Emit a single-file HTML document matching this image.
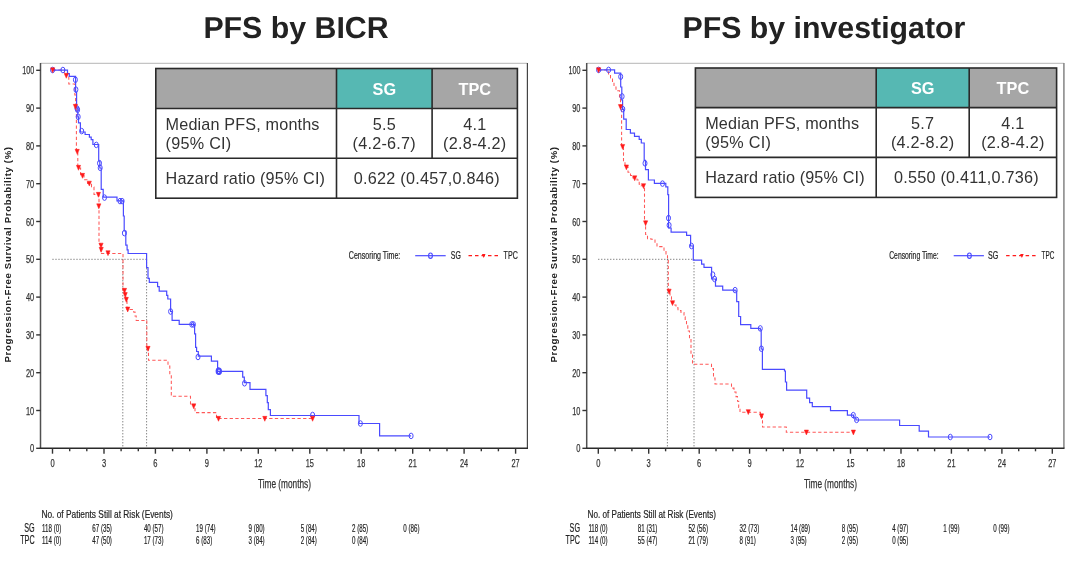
<!DOCTYPE html>
<html><head><meta charset="utf-8"><title>PFS</title><style>
*{margin:0;padding:0}
html,body{width:1080px;height:579px;background:#fff;overflow:hidden}
svg{display:block;will-change:transform}
text{font-family:"Liberation Sans",sans-serif}
.title{font-size:30.3px;text-rendering:geometricPrecision;font-weight:bold;fill:#222;text-anchor:middle}
.tk{font-size:11.6px;fill:#333;stroke:#333;stroke-width:0.25px}
.yl{font-size:9.6px;font-weight:bold;fill:#222}
.th{font-size:16.3px;font-weight:bold;fill:#fff;text-anchor:middle}
.td{font-size:16.2px;fill:#333;letter-spacing:0.25px}
.sm{font-size:10.4px;fill:#222;stroke:#222;stroke-width:0.2px}
.ar{font-size:11px;fill:#222;stroke:#222;stroke-width:0.2px}
.ar2{font-size:10.5px;fill:#222;transform-box:fill-box}
</style></head>
<body><svg width="1080" height="579" viewBox="0 0 1080 579">
<text x="296" y="37.9" class="title">PFS by BICR</text>
<text x="823.9" y="38.2" class="title">PFS by investigator</text>
<path d="M40.5,63.4H527.4" fill="none" stroke="#c4c4c4" stroke-width="1.1"/>
<path d="M527.4,62.9V448.3" fill="none" stroke="#454545" stroke-width="1.2"/>
<path d="M40.5,62.9V448.3" fill="none" stroke="#505050" stroke-width="1.5"/>
<path d="M39.8,448.3H528.0" fill="none" stroke="#2a2a2a" stroke-width="1.6"/>
<path d="M36.2,448.3H40.5" stroke="#333" stroke-width="1.4"/>
<text x="34.2" y="452.4" text-anchor="end" class="tk" textLength="4.2" lengthAdjust="spacingAndGlyphs">0</text>
<path d="M36.2,410.5H40.5" stroke="#333" stroke-width="1.4"/>
<text x="34.2" y="414.6" text-anchor="end" class="tk" textLength="8.2" lengthAdjust="spacingAndGlyphs">10</text>
<path d="M36.2,372.7H40.5" stroke="#333" stroke-width="1.4"/>
<text x="34.2" y="376.8" text-anchor="end" class="tk" textLength="8.2" lengthAdjust="spacingAndGlyphs">20</text>
<path d="M36.2,334.9H40.5" stroke="#333" stroke-width="1.4"/>
<text x="34.2" y="339.0" text-anchor="end" class="tk" textLength="8.2" lengthAdjust="spacingAndGlyphs">30</text>
<path d="M36.2,297.1H40.5" stroke="#333" stroke-width="1.4"/>
<text x="34.2" y="301.2" text-anchor="end" class="tk" textLength="8.2" lengthAdjust="spacingAndGlyphs">40</text>
<path d="M36.2,259.3H40.5" stroke="#333" stroke-width="1.4"/>
<text x="34.2" y="263.4" text-anchor="end" class="tk" textLength="8.2" lengthAdjust="spacingAndGlyphs">50</text>
<path d="M36.2,221.5H40.5" stroke="#333" stroke-width="1.4"/>
<text x="34.2" y="225.6" text-anchor="end" class="tk" textLength="8.2" lengthAdjust="spacingAndGlyphs">60</text>
<path d="M36.2,183.7H40.5" stroke="#333" stroke-width="1.4"/>
<text x="34.2" y="187.8" text-anchor="end" class="tk" textLength="8.2" lengthAdjust="spacingAndGlyphs">70</text>
<path d="M36.2,145.9H40.5" stroke="#333" stroke-width="1.4"/>
<text x="34.2" y="150.0" text-anchor="end" class="tk" textLength="8.2" lengthAdjust="spacingAndGlyphs">80</text>
<path d="M36.2,108.1H40.5" stroke="#333" stroke-width="1.4"/>
<text x="34.2" y="112.2" text-anchor="end" class="tk" textLength="8.2" lengthAdjust="spacingAndGlyphs">90</text>
<path d="M36.2,70.3H40.5" stroke="#333" stroke-width="1.4"/>
<text x="34.2" y="74.4" text-anchor="end" class="tk" textLength="12.0" lengthAdjust="spacingAndGlyphs">100</text>
<path d="M52.5,448.3V453.7" stroke="#333" stroke-width="1.4"/>
<text x="52.5" y="466.9" text-anchor="middle" class="tk" textLength="4.2" lengthAdjust="spacingAndGlyphs">0</text>
<path d="M69.7,448.3V451.3" stroke="#333" stroke-width="1.4"/>
<path d="M86.8,448.3V451.3" stroke="#333" stroke-width="1.4"/>
<path d="M104.0,448.3V453.7" stroke="#333" stroke-width="1.4"/>
<text x="104.0" y="466.9" text-anchor="middle" class="tk" textLength="4.2" lengthAdjust="spacingAndGlyphs">3</text>
<path d="M121.1,448.3V451.3" stroke="#333" stroke-width="1.4"/>
<path d="M138.3,448.3V451.3" stroke="#333" stroke-width="1.4"/>
<path d="M155.4,448.3V453.7" stroke="#333" stroke-width="1.4"/>
<text x="155.4" y="466.9" text-anchor="middle" class="tk" textLength="4.2" lengthAdjust="spacingAndGlyphs">6</text>
<path d="M172.6,448.3V451.3" stroke="#333" stroke-width="1.4"/>
<path d="M189.7,448.3V451.3" stroke="#333" stroke-width="1.4"/>
<path d="M206.9,448.3V453.7" stroke="#333" stroke-width="1.4"/>
<text x="206.9" y="466.9" text-anchor="middle" class="tk" textLength="4.2" lengthAdjust="spacingAndGlyphs">9</text>
<path d="M224.0,448.3V451.3" stroke="#333" stroke-width="1.4"/>
<path d="M241.2,448.3V451.3" stroke="#333" stroke-width="1.4"/>
<path d="M258.3,448.3V453.7" stroke="#333" stroke-width="1.4"/>
<text x="258.3" y="466.9" text-anchor="middle" class="tk" textLength="8.2" lengthAdjust="spacingAndGlyphs">12</text>
<path d="M275.5,448.3V451.3" stroke="#333" stroke-width="1.4"/>
<path d="M292.6,448.3V451.3" stroke="#333" stroke-width="1.4"/>
<path d="M309.8,448.3V453.7" stroke="#333" stroke-width="1.4"/>
<text x="309.8" y="466.9" text-anchor="middle" class="tk" textLength="8.2" lengthAdjust="spacingAndGlyphs">15</text>
<path d="M326.9,448.3V451.3" stroke="#333" stroke-width="1.4"/>
<path d="M344.1,448.3V451.3" stroke="#333" stroke-width="1.4"/>
<path d="M361.2,448.3V453.7" stroke="#333" stroke-width="1.4"/>
<text x="361.2" y="466.9" text-anchor="middle" class="tk" textLength="8.2" lengthAdjust="spacingAndGlyphs">18</text>
<path d="M378.4,448.3V451.3" stroke="#333" stroke-width="1.4"/>
<path d="M395.5,448.3V451.3" stroke="#333" stroke-width="1.4"/>
<path d="M412.7,448.3V453.7" stroke="#333" stroke-width="1.4"/>
<text x="412.7" y="466.9" text-anchor="middle" class="tk" textLength="8.2" lengthAdjust="spacingAndGlyphs">21</text>
<path d="M429.8,448.3V451.3" stroke="#333" stroke-width="1.4"/>
<path d="M447.0,448.3V451.3" stroke="#333" stroke-width="1.4"/>
<path d="M464.1,448.3V453.7" stroke="#333" stroke-width="1.4"/>
<text x="464.1" y="466.9" text-anchor="middle" class="tk" textLength="8.2" lengthAdjust="spacingAndGlyphs">24</text>
<path d="M481.3,448.3V451.3" stroke="#333" stroke-width="1.4"/>
<path d="M498.4,448.3V451.3" stroke="#333" stroke-width="1.4"/>
<path d="M515.6,448.3V453.7" stroke="#333" stroke-width="1.4"/>
<text x="515.6" y="466.9" text-anchor="middle" class="tk" textLength="8.2" lengthAdjust="spacingAndGlyphs">27</text>
<text x="284.5" y="488" text-anchor="middle" class="tk" style="font-size:12px" textLength="53" lengthAdjust="spacingAndGlyphs">Time (months)</text>
<text transform="translate(10.8,254.7) rotate(-90)" text-anchor="middle" class="yl" textLength="215.5" lengthAdjust="spacing">Progression-Free Survival Probability (%)</text>
<path d="M52.5,259.3H146.6M122.8,259.3V447.3M146.6,259.3V447.3" fill="none" stroke="#555" stroke-width="1" stroke-dasharray="1 2"/>
<polyline points="52.7,70.0 64.5,70.0 64.5,74.8 68.8,74.8 68.8,84.0 74.8,84.0 74.8,95.0 75.6,95.0 75.6,107.0 76.4,107.0 76.4,151.0 77.8,151.0 77.8,168.0 80.6,168.0 80.6,175.5 84.0,175.5 84.0,179.8 87.5,179.8 87.5,183.5 91.5,183.5 91.5,187.0 94.0,187.0 94.0,194.5 99.0,194.5 99.0,244.0 100.5,244.0 100.5,253.4 123.0,253.4 123.0,290.5 124.8,290.5 124.8,295.0 125.8,295.0 125.8,300.0 127.0,300.0 127.0,309.5 133.5,309.5 133.5,312.0 135.0,312.0 135.0,316.0 136.2,316.0 136.2,320.4 146.8,320.4 146.8,349.0 148.5,349.0 148.5,360.3 168.0,360.3 168.0,366.0 169.8,366.0 169.8,375.0 171.3,375.0 171.3,396.2 190.5,396.2 190.5,405.0 195.0,405.0 195.0,412.6 216.5,412.6 216.5,418.5 312.6,418.5" fill="none" stroke="#ff5858" stroke-width="1.05" stroke-dasharray="3.3 2.35"/>
<polyline points="52.6,70.1 67.5,70.1 67.5,73.7 69.3,73.7 69.3,76.4 75.6,76.4 75.6,92.0 76.6,92.0 76.6,108.0 77.8,108.0 77.8,116.8 78.5,116.8 78.5,122.9 80.4,122.9 80.4,132.0 85.1,132.0 85.1,134.5 89.4,134.5 89.4,137.1 91.2,137.1 91.2,139.7 92.9,139.7 92.9,144.5 98.7,144.5 98.7,161.0 99.8,161.0 99.8,168.0 101.2,168.0 101.2,189.3 103.2,189.3 103.2,197.1 117.0,197.1 117.0,200.8 123.4,200.8 123.4,216.0 124.2,216.0 124.2,231.0 125.8,231.0 125.8,245.2 127.1,245.2 127.1,249.9 128.1,249.9 128.1,253.5 146.6,253.5 146.6,267.5 148.0,267.5 148.0,278.3 149.3,278.3 149.3,282.4 157.6,282.4 157.6,286.6 159.2,286.6 159.2,291.2 166.7,291.2 166.7,295.4 167.8,295.4 167.8,299.0 170.6,299.0 170.6,311.5 172.1,311.5 172.1,320.3 179.2,320.3 179.2,324.4 194.6,324.4 194.6,333.8 195.6,333.8 195.6,347.3 196.6,347.3 196.6,351.5 198.3,351.5 198.3,356.1 211.4,356.1 211.4,361.2 217.6,361.2 217.6,371.3 242.7,371.3 242.7,377.1 244.3,377.1 244.3,382.6 250.0,382.6 250.0,389.3 265.9,389.3 265.9,395.7 267.3,395.7 267.3,402.7 268.3,402.7 268.3,409.6 270.4,409.6 270.4,415.5 359.0,415.5 359.0,423.5 379.6,423.5 379.6,435.9 411.1,435.9" fill="none" stroke="#4a4aff" stroke-width="1.2"/>
<g fill="none" stroke="#4a4aff" stroke-width="1.0"><ellipse cx="52.6" cy="70.0" rx="2.0" ry="2.8"/><ellipse cx="62.9" cy="70.0" rx="2.0" ry="2.8"/><ellipse cx="75.4" cy="79.8" rx="2.0" ry="2.8"/><ellipse cx="75.9" cy="89.6" rx="2.0" ry="2.8"/><ellipse cx="77.0" cy="108.5" rx="2.0" ry="2.8"/><ellipse cx="77.6" cy="109.8" rx="2.0" ry="2.8"/><ellipse cx="78.2" cy="116.8" rx="2.0" ry="2.8"/><ellipse cx="81.7" cy="131.1" rx="2.0" ry="2.8"/><ellipse cx="96.3" cy="144.9" rx="2.0" ry="2.8"/><ellipse cx="99.5" cy="163.2" rx="2.0" ry="2.8"/><ellipse cx="100.2" cy="167.8" rx="2.0" ry="2.8"/><ellipse cx="104.5" cy="197.6" rx="2.0" ry="2.8"/><ellipse cx="120.0" cy="201.1" rx="2.0" ry="2.8"/><ellipse cx="122.1" cy="201.1" rx="2.0" ry="2.8"/><ellipse cx="124.4" cy="233.1" rx="2.0" ry="2.8"/><ellipse cx="170.6" cy="311.5" rx="2.0" ry="2.8"/><ellipse cx="191.8" cy="324.4" rx="2.0" ry="2.8"/><ellipse cx="193.4" cy="324.4" rx="2.0" ry="2.8"/><ellipse cx="198.0" cy="357.0" rx="2.0" ry="2.8"/><ellipse cx="218.4" cy="370.6" rx="2.0" ry="2.8"/><ellipse cx="219.2" cy="371.6" rx="2.0" ry="2.8"/><ellipse cx="244.5" cy="383.3" rx="2.0" ry="2.8"/><ellipse cx="312.6" cy="415.0" rx="2.0" ry="2.8"/><ellipse cx="360.4" cy="423.5" rx="2.0" ry="2.8"/><ellipse cx="411.1" cy="435.9" rx="2.0" ry="2.8"/></g>
<ellipse cx="218.8" cy="371.2" rx="2.2" ry="2.8" fill="none" stroke="#4a4aff" stroke-width="1.9"/>
<g fill="#ff1a1a" stroke="#ff1a1a" stroke-width="0.5" stroke-linejoin="round"><path d="M50.60,67.85H54.80L52.70,72.75Z"/><path d="M64.20,73.35H68.40L66.30,78.25Z"/><path d="M73.30,104.35H77.50L75.40,109.25Z"/><path d="M75.10,149.35H79.30L77.20,154.25Z"/><path d="M76.40,165.35H80.60L78.50,170.25Z"/><path d="M80.40,173.35H84.60L82.50,178.25Z"/><path d="M87.20,181.15H91.40L89.30,186.05Z"/><path d="M96.30,192.35H100.50L98.40,197.25Z"/><path d="M96.70,203.85H100.90L98.80,208.75Z"/><path d="M98.90,243.15H103.10L101.00,248.05Z"/><path d="M99.10,247.35H103.30L101.20,252.25Z"/><path d="M105.90,250.75H110.10L108.00,255.65Z"/><path d="M122.40,288.35H126.60L124.50,293.25Z"/><path d="M123.10,292.55H127.30L125.20,297.45Z"/><path d="M124.20,297.35H128.40L126.30,302.25Z"/><path d="M125.60,307.05H129.80L127.70,311.95Z"/><path d="M145.90,346.35H150.10L148.00,351.25Z"/><path d="M191.60,403.85H195.80L193.70,408.75Z"/><path d="M216.40,416.35H220.60L218.50,421.25Z"/><path d="M262.70,416.35H266.90L264.80,421.25Z"/><path d="M310.50,416.35H314.70L312.60,421.25Z"/></g>
<path d="M586.7,63.4H1063.9" fill="none" stroke="#c4c4c4" stroke-width="1.1"/>
<path d="M1063.9,62.9V448.3" fill="none" stroke="#8c8c8c" stroke-width="1.6"/>
<path d="M586.7,62.9V448.3" fill="none" stroke="#505050" stroke-width="1.5"/>
<path d="M586.0,448.3H1064.5" fill="none" stroke="#2a2a2a" stroke-width="1.6"/>
<path d="M582.4000000000001,448.3H586.7" stroke="#333" stroke-width="1.4"/>
<text x="580.4" y="452.4" text-anchor="end" class="tk" textLength="4.2" lengthAdjust="spacingAndGlyphs">0</text>
<path d="M582.4000000000001,410.5H586.7" stroke="#333" stroke-width="1.4"/>
<text x="580.4" y="414.6" text-anchor="end" class="tk" textLength="8.2" lengthAdjust="spacingAndGlyphs">10</text>
<path d="M582.4000000000001,372.7H586.7" stroke="#333" stroke-width="1.4"/>
<text x="580.4" y="376.8" text-anchor="end" class="tk" textLength="8.2" lengthAdjust="spacingAndGlyphs">20</text>
<path d="M582.4000000000001,334.9H586.7" stroke="#333" stroke-width="1.4"/>
<text x="580.4" y="339.0" text-anchor="end" class="tk" textLength="8.2" lengthAdjust="spacingAndGlyphs">30</text>
<path d="M582.4000000000001,297.1H586.7" stroke="#333" stroke-width="1.4"/>
<text x="580.4" y="301.2" text-anchor="end" class="tk" textLength="8.2" lengthAdjust="spacingAndGlyphs">40</text>
<path d="M582.4000000000001,259.3H586.7" stroke="#333" stroke-width="1.4"/>
<text x="580.4" y="263.4" text-anchor="end" class="tk" textLength="8.2" lengthAdjust="spacingAndGlyphs">50</text>
<path d="M582.4000000000001,221.5H586.7" stroke="#333" stroke-width="1.4"/>
<text x="580.4" y="225.6" text-anchor="end" class="tk" textLength="8.2" lengthAdjust="spacingAndGlyphs">60</text>
<path d="M582.4000000000001,183.7H586.7" stroke="#333" stroke-width="1.4"/>
<text x="580.4" y="187.8" text-anchor="end" class="tk" textLength="8.2" lengthAdjust="spacingAndGlyphs">70</text>
<path d="M582.4000000000001,145.9H586.7" stroke="#333" stroke-width="1.4"/>
<text x="580.4" y="150.0" text-anchor="end" class="tk" textLength="8.2" lengthAdjust="spacingAndGlyphs">80</text>
<path d="M582.4000000000001,108.1H586.7" stroke="#333" stroke-width="1.4"/>
<text x="580.4" y="112.2" text-anchor="end" class="tk" textLength="8.2" lengthAdjust="spacingAndGlyphs">90</text>
<path d="M582.4000000000001,70.3H586.7" stroke="#333" stroke-width="1.4"/>
<text x="580.4" y="74.4" text-anchor="end" class="tk" textLength="12.0" lengthAdjust="spacingAndGlyphs">100</text>
<path d="M598.3,448.3V453.7" stroke="#333" stroke-width="1.4"/>
<text x="598.3" y="466.9" text-anchor="middle" class="tk" textLength="4.2" lengthAdjust="spacingAndGlyphs">0</text>
<path d="M615.1,448.3V451.3" stroke="#333" stroke-width="1.4"/>
<path d="M631.9,448.3V451.3" stroke="#333" stroke-width="1.4"/>
<path d="M648.7,448.3V453.7" stroke="#333" stroke-width="1.4"/>
<text x="648.7" y="466.9" text-anchor="middle" class="tk" textLength="4.2" lengthAdjust="spacingAndGlyphs">3</text>
<path d="M665.6,448.3V451.3" stroke="#333" stroke-width="1.4"/>
<path d="M682.4,448.3V451.3" stroke="#333" stroke-width="1.4"/>
<path d="M699.2,448.3V453.7" stroke="#333" stroke-width="1.4"/>
<text x="699.2" y="466.9" text-anchor="middle" class="tk" textLength="4.2" lengthAdjust="spacingAndGlyphs">6</text>
<path d="M716.0,448.3V451.3" stroke="#333" stroke-width="1.4"/>
<path d="M732.8,448.3V451.3" stroke="#333" stroke-width="1.4"/>
<path d="M749.6,448.3V453.7" stroke="#333" stroke-width="1.4"/>
<text x="749.6" y="466.9" text-anchor="middle" class="tk" textLength="4.2" lengthAdjust="spacingAndGlyphs">9</text>
<path d="M766.4,448.3V451.3" stroke="#333" stroke-width="1.4"/>
<path d="M783.3,448.3V451.3" stroke="#333" stroke-width="1.4"/>
<path d="M800.1,448.3V453.7" stroke="#333" stroke-width="1.4"/>
<text x="800.1" y="466.9" text-anchor="middle" class="tk" textLength="8.2" lengthAdjust="spacingAndGlyphs">12</text>
<path d="M816.9,448.3V451.3" stroke="#333" stroke-width="1.4"/>
<path d="M833.7,448.3V451.3" stroke="#333" stroke-width="1.4"/>
<path d="M850.5,448.3V453.7" stroke="#333" stroke-width="1.4"/>
<text x="850.5" y="466.9" text-anchor="middle" class="tk" textLength="8.2" lengthAdjust="spacingAndGlyphs">15</text>
<path d="M867.3,448.3V451.3" stroke="#333" stroke-width="1.4"/>
<path d="M884.2,448.3V451.3" stroke="#333" stroke-width="1.4"/>
<path d="M901.0,448.3V453.7" stroke="#333" stroke-width="1.4"/>
<text x="901.0" y="466.9" text-anchor="middle" class="tk" textLength="8.2" lengthAdjust="spacingAndGlyphs">18</text>
<path d="M917.8,448.3V451.3" stroke="#333" stroke-width="1.4"/>
<path d="M934.6,448.3V451.3" stroke="#333" stroke-width="1.4"/>
<path d="M951.4,448.3V453.7" stroke="#333" stroke-width="1.4"/>
<text x="951.4" y="466.9" text-anchor="middle" class="tk" textLength="8.2" lengthAdjust="spacingAndGlyphs">21</text>
<path d="M968.2,448.3V451.3" stroke="#333" stroke-width="1.4"/>
<path d="M985.0,448.3V451.3" stroke="#333" stroke-width="1.4"/>
<path d="M1001.9,448.3V453.7" stroke="#333" stroke-width="1.4"/>
<text x="1001.9" y="466.9" text-anchor="middle" class="tk" textLength="8.2" lengthAdjust="spacingAndGlyphs">24</text>
<path d="M1018.7,448.3V451.3" stroke="#333" stroke-width="1.4"/>
<path d="M1035.5,448.3V451.3" stroke="#333" stroke-width="1.4"/>
<path d="M1052.3,448.3V453.7" stroke="#333" stroke-width="1.4"/>
<text x="1052.3" y="466.9" text-anchor="middle" class="tk" textLength="8.2" lengthAdjust="spacingAndGlyphs">27</text>
<text x="830.5" y="488" text-anchor="middle" class="tk" style="font-size:12px" textLength="53" lengthAdjust="spacingAndGlyphs">Time (months)</text>
<text transform="translate(556.8,254.7) rotate(-90)" text-anchor="middle" class="yl" textLength="215.5" lengthAdjust="spacing">Progression-Free Survival Probability (%)</text>
<path d="M598.3,259.3H694.0M667.4,259.3V447.3M694.0,259.3V447.3" fill="none" stroke="#555" stroke-width="1" stroke-dasharray="1 2"/>
<polyline points="598.6,69.9 608.5,69.9 608.5,74.0 610.5,74.0 610.5,78.0 612.5,78.0 612.5,82.5 614.0,82.5 614.0,87.0 616.0,87.0 616.0,90.8 619.5,90.8 619.5,98.0 620.5,98.0 620.5,107.0 621.6,107.0 621.6,147.0 623.5,147.0 623.5,162.0 625.0,162.0 625.0,167.0 628.0,167.0 628.0,172.3 630.5,172.3 630.5,175.4 633.0,175.4 633.0,178.0 637.0,178.0 637.0,180.0 639.2,180.0 639.2,184.2 641.0,184.2 641.0,185.8 644.5,185.8 644.5,220.0 645.6,220.0 645.6,234.5 647.5,234.5 647.5,238.7 651.0,238.7 651.0,239.3 655.0,239.3 655.0,242.9 657.0,242.9 657.0,246.6 664.0,246.6 664.0,250.2 666.0,250.2 666.0,254.4 667.5,254.4 667.5,259.3 668.3,259.3 668.3,291.3 670.0,291.3 670.0,296.7 671.5,296.7 671.5,302.8 674.0,302.8 674.0,305.0 676.0,305.0 676.0,307.8 678.0,307.8 678.0,310.6 681.0,310.6 681.0,312.4 684.0,312.4 684.0,316.7 685.2,316.7 685.2,321.5 686.5,321.5 686.5,324.5 687.8,324.5 687.8,331.0 689.5,331.0 689.5,339.0 691.0,339.0 691.0,354.5 692.5,354.5 692.5,364.3 711.5,364.3 711.5,368.6 713.5,368.6 713.5,378.0 715.0,378.0 715.0,383.9 731.5,383.9 731.5,388.1 734.0,388.1 734.0,392.0 736.0,392.0 736.0,396.6 737.5,396.6 737.5,401.3 738.7,401.3 738.7,407.5 740.0,407.5 740.0,412.2 760.5,412.2 760.5,416.5 762.5,416.5 762.5,427.0 786.3,427.0 786.3,432.3 853.4,432.3" fill="none" stroke="#ff5858" stroke-width="1.05" stroke-dasharray="3.3 2.35"/>
<polyline points="598.6,69.9 614.6,69.9 614.6,73.2 620.7,73.2 620.7,87.0 621.8,87.0 621.8,100.0 622.6,100.0 622.6,109.3 623.7,109.3 623.7,119.2 626.2,119.2 626.2,129.5 630.4,129.5 630.4,133.2 634.5,133.2 634.5,136.3 639.2,136.3 639.2,139.4 641.3,139.4 641.3,143.0 644.2,143.0 644.2,160.4 645.5,160.4 645.5,169.7 648.4,169.7 648.4,180.0 654.4,180.0 654.4,183.4 665.8,183.4 665.8,186.8 667.8,186.8 667.8,194.6 668.6,194.6 668.6,228.0 671.1,228.0 671.1,232.2 686.6,232.2 686.6,235.4 690.6,235.4 690.6,246.0 693.3,246.0 693.3,260.1 701.6,260.1 701.6,264.1 704.0,264.1 704.0,267.3 711.6,267.3 711.6,279.0 715.5,279.0 715.5,286.2 722.7,286.2 722.7,290.1 735.1,290.1 735.1,291.0 736.7,291.0 736.7,301.7 738.7,301.7 738.7,316.5 740.6,316.5 740.6,324.6 750.8,324.6 750.8,328.4 760.3,328.4 760.3,330.0 761.2,330.0 761.2,349.0 762.4,349.0 762.4,369.3 784.5,369.3 784.5,371.0 785.4,371.0 785.4,382.0 786.6,382.0 786.6,390.1 806.7,390.1 806.7,398.2 809.6,398.2 809.6,402.6 812.3,402.6 812.3,406.7 830.5,406.7 830.5,410.7 847.4,410.7 847.4,415.1 853.5,415.1 853.5,418.0 856.0,418.0 856.0,420.0 899.6,420.0 899.6,425.5 919.2,425.5 919.2,431.1 928.5,431.1 928.5,437.0 990.0,437.0" fill="none" stroke="#4a4aff" stroke-width="1.2"/>
<g fill="none" stroke="#4a4aff" stroke-width="1.0"><ellipse cx="598.6" cy="69.9" rx="2.0" ry="2.8"/><ellipse cx="608.6" cy="69.9" rx="2.0" ry="2.8"/><ellipse cx="620.7" cy="76.7" rx="2.0" ry="2.8"/><ellipse cx="622.1" cy="96.4" rx="2.0" ry="2.8"/><ellipse cx="622.8" cy="109.1" rx="2.0" ry="2.8"/><ellipse cx="645.0" cy="163.3" rx="2.0" ry="2.8"/><ellipse cx="662.5" cy="183.6" rx="2.0" ry="2.8"/><ellipse cx="668.5" cy="218.1" rx="2.0" ry="2.8"/><ellipse cx="669.1" cy="225.2" rx="2.0" ry="2.8"/><ellipse cx="691.5" cy="246.0" rx="2.0" ry="2.8"/><ellipse cx="712.8" cy="274.6" rx="2.0" ry="2.8"/><ellipse cx="714.6" cy="279.0" rx="2.0" ry="2.8"/><ellipse cx="735.1" cy="290.1" rx="2.0" ry="2.8"/><ellipse cx="760.3" cy="328.4" rx="2.0" ry="2.8"/><ellipse cx="761.4" cy="348.7" rx="2.0" ry="2.8"/><ellipse cx="853.3" cy="415.1" rx="2.0" ry="2.8"/><ellipse cx="856.6" cy="419.9" rx="2.0" ry="2.8"/><ellipse cx="950.3" cy="437.0" rx="2.0" ry="2.8"/><ellipse cx="990.0" cy="437.0" rx="2.0" ry="2.8"/></g>
<g fill="#ff1a1a" stroke="#ff1a1a" stroke-width="0.5" stroke-linejoin="round"><path d="M596.50,67.75H600.70L598.60,72.65Z"/><path d="M618.40,104.55H622.60L620.50,109.45Z"/><path d="M620.50,144.45H624.70L622.60,149.35Z"/><path d="M624.30,164.95H628.50L626.40,169.85Z"/><path d="M632.60,175.85H636.80L634.70,180.75Z"/><path d="M641.40,183.65H645.60L643.50,188.55Z"/><path d="M643.50,220.85H647.70L645.60,225.75Z"/><path d="M667.00,289.15H671.20L669.10,294.05Z"/><path d="M670.40,300.65H674.60L672.50,305.55Z"/><path d="M746.20,409.65H750.40L748.30,414.55Z"/><path d="M759.40,413.85H763.60L761.50,418.75Z"/><path d="M804.30,430.05H808.50L806.40,434.95Z"/><path d="M851.30,430.05H855.50L853.40,434.95Z"/></g>
<rect x="155.8" y="68.5" width="180.7" height="40.0" fill="#a6a6a6"/>
<rect x="336.5" y="68.5" width="95.60000000000002" height="40.0" fill="#56b8b3"/>
<rect x="432.1" y="68.5" width="85.29999999999995" height="40.0" fill="#a6a6a6"/>
<rect x="155.8" y="108.5" width="361.59999999999997" height="89.69999999999999" fill="#fff"/>
<path d="M155.8,108.5H517.4M155.8,158.2H517.4M336.5,68.5V198.2M432.1,68.5V158.2" stroke="#2a2a2a" stroke-width="1.6" fill="none"/>
<rect x="155.8" y="68.5" width="361.59999999999997" height="129.7" stroke="#2a2a2a" stroke-width="1.6" fill="none" stroke-width="1.8"/>
<text x="384.3" y="94.7" class="th">SG</text><text x="474.8" y="94.7" class="th">TPC</text>
<text x="165.6" y="129.7" class="td" style="letter-spacing:0.16px">Median PFS, months</text>
<text x="165.6" y="148.9" class="td">(95% CI)</text>
<text x="165.6" y="183.7" class="td" style="letter-spacing:0.14px">Hazard ratio (95% CI)</text>
<text x="384.3" y="129.7" class="td" text-anchor="middle">5.5</text>
<text x="384.3" y="148.9" class="td" text-anchor="middle">(4.2-6.7)</text>
<text x="474.8" y="129.7" class="td" text-anchor="middle">4.1</text>
<text x="474.8" y="148.9" class="td" text-anchor="middle">(2.8-4.2)</text>
<text x="426.9" y="183.7" class="td" text-anchor="middle">0.622 (0.457,0.846)</text>
<rect x="695.4" y="68.0" width="180.80000000000007" height="39.599999999999994" fill="#a6a6a6"/>
<rect x="876.2" y="68.0" width="93.0" height="39.599999999999994" fill="#56b8b3"/>
<rect x="969.2" y="68.0" width="87.39999999999986" height="39.599999999999994" fill="#a6a6a6"/>
<rect x="695.4" y="107.6" width="361.19999999999993" height="89.80000000000001" fill="#fff"/>
<path d="M695.4,107.6H1056.6M695.4,157.4H1056.6M876.2,68.0V197.4M969.2,68.0V157.4" stroke="#2a2a2a" stroke-width="1.6" fill="none"/>
<rect x="695.4" y="68.0" width="361.19999999999993" height="129.4" stroke="#2a2a2a" stroke-width="1.6" fill="none" stroke-width="1.8"/>
<text x="922.7" y="94.0" class="th">SG</text><text x="1012.9" y="94.0" class="th">TPC</text>
<text x="705.2" y="129.0" class="td" style="letter-spacing:0.16px">Median PFS, months</text>
<text x="705.2" y="148.2" class="td">(95% CI)</text>
<text x="705.2" y="183.0" class="td" style="letter-spacing:0.14px">Hazard ratio (95% CI)</text>
<text x="922.7" y="129.0" class="td" text-anchor="middle">5.7</text>
<text x="922.7" y="148.2" class="td" text-anchor="middle">(4.2-8.2)</text>
<text x="1012.9" y="129.0" class="td" text-anchor="middle">4.1</text>
<text x="1012.9" y="148.2" class="td" text-anchor="middle">(2.8-4.2)</text>
<text x="966.4" y="183.0" class="td" text-anchor="middle">0.550 (0.411,0.736)</text>
<text x="348.8" y="259.2" class="sm" textLength="51.5" lengthAdjust="spacingAndGlyphs">Censoring Time:</text>
<path d="M415.2,255.7H445.7" stroke="#4a4aff" stroke-width="1.2"/>
<ellipse cx="430.5" cy="255.7" rx="1.9" ry="2.7" fill="none" stroke="#4a4aff" stroke-width="1.1"/>
<text x="450.8" y="259.2" class="sm" textLength="10.0" lengthAdjust="spacingAndGlyphs">SG</text>
<path d="M468.5,255.7H499.4" stroke="#ff1a1a" stroke-width="1.2" stroke-dasharray="3.5 3"/>
<g fill="#ff1a1a"><path d="M481.90,254.00H485.50L483.70,258.00Z"/></g>
<text x="503.6" y="259.2" class="sm" textLength="14.2" lengthAdjust="spacingAndGlyphs">TPC</text>
<text x="889.2" y="259.2" class="sm" textLength="49.5" lengthAdjust="spacingAndGlyphs">Censoring Time:</text>
<path d="M953.7,255.7H983.9" stroke="#4a4aff" stroke-width="1.2"/>
<ellipse cx="969.4" cy="255.7" rx="1.9" ry="2.7" fill="none" stroke="#4a4aff" stroke-width="1.1"/>
<text x="988.0" y="259.2" class="sm" textLength="10.3" lengthAdjust="spacingAndGlyphs">SG</text>
<path d="M1006.1,255.7H1036.7" stroke="#ff1a1a" stroke-width="1.2" stroke-dasharray="3.5 3"/>
<g fill="#ff1a1a"><path d="M1020.10,254.00H1023.70L1021.90,258.00Z"/></g>
<text x="1041.5" y="259.2" class="sm" textLength="12.8" lengthAdjust="spacingAndGlyphs">TPC</text>
<text x="41.4" y="517.8" class="ar" textLength="131.5" lengthAdjust="spacingAndGlyphs">No. of Patients Still at Risk (Events)</text>
<text x="34.6" y="532.2" class="ar" text-anchor="end" style="font-size:12px" transform="translate(13.84,0) scale(0.6,1)">SG</text>
<text x="34.6" y="544.4" class="ar" text-anchor="end" style="font-size:12px" transform="translate(13.84,0) scale(0.6,1)">TPC</text>
<text x="42.1" y="532.2" class="ar" style="font-size:10px" transform="translate(16.00,0) scale(0.62,1)">118 (0)</text>
<text x="92.3" y="532.2" class="ar" style="font-size:10px" transform="translate(35.07,0) scale(0.62,1)">67 (35)</text>
<text x="143.9" y="532.2" class="ar" style="font-size:10px" transform="translate(54.68,0) scale(0.62,1)">40 (57)</text>
<text x="196.1" y="532.2" class="ar" style="font-size:10px" transform="translate(74.52,0) scale(0.62,1)">19 (74)</text>
<text x="248.5" y="532.2" class="ar" style="font-size:10px" transform="translate(94.43,0) scale(0.62,1)">9 (80)</text>
<text x="300.7" y="532.2" class="ar" style="font-size:10px" transform="translate(114.27,0) scale(0.62,1)">5 (84)</text>
<text x="352.0" y="532.2" class="ar" style="font-size:10px" transform="translate(133.76,0) scale(0.62,1)">2 (85)</text>
<text x="403.3" y="532.2" class="ar" style="font-size:10px" transform="translate(153.25,0) scale(0.62,1)">0 (86)</text>
<text x="42.1" y="544.4" class="ar" style="font-size:10px" transform="translate(16.00,0) scale(0.62,1)">114 (0)</text>
<text x="92.3" y="544.4" class="ar" style="font-size:10px" transform="translate(35.07,0) scale(0.62,1)">47 (50)</text>
<text x="143.9" y="544.4" class="ar" style="font-size:10px" transform="translate(54.68,0) scale(0.62,1)">17 (73)</text>
<text x="196.1" y="544.4" class="ar" style="font-size:10px" transform="translate(74.52,0) scale(0.62,1)">6 (83)</text>
<text x="248.5" y="544.4" class="ar" style="font-size:10px" transform="translate(94.43,0) scale(0.62,1)">3 (84)</text>
<text x="300.7" y="544.4" class="ar" style="font-size:10px" transform="translate(114.27,0) scale(0.62,1)">2 (84)</text>
<text x="352.0" y="544.4" class="ar" style="font-size:10px" transform="translate(133.76,0) scale(0.62,1)">0 (84)</text>
<text x="587.5" y="517.8" class="ar" textLength="128.5" lengthAdjust="spacingAndGlyphs">No. of Patients Still at Risk (Events)</text>
<text x="580.0" y="532.2" class="ar" text-anchor="end" style="font-size:12px" transform="translate(232.00,0) scale(0.6,1)">SG</text>
<text x="580.0" y="544.4" class="ar" text-anchor="end" style="font-size:12px" transform="translate(232.00,0) scale(0.6,1)">TPC</text>
<text x="588.4" y="532.2" class="ar" style="font-size:10px" transform="translate(223.59,0) scale(0.62,1)">118 (0)</text>
<text x="637.8" y="532.2" class="ar" style="font-size:10px" transform="translate(242.36,0) scale(0.62,1)">81 (31)</text>
<text x="688.4" y="532.2" class="ar" style="font-size:10px" transform="translate(261.59,0) scale(0.62,1)">52 (56)</text>
<text x="739.6" y="532.2" class="ar" style="font-size:10px" transform="translate(281.05,0) scale(0.62,1)">32 (73)</text>
<text x="790.5" y="532.2" class="ar" style="font-size:10px" transform="translate(300.39,0) scale(0.62,1)">14 (89)</text>
<text x="841.8" y="532.2" class="ar" style="font-size:10px" transform="translate(319.88,0) scale(0.62,1)">8 (95)</text>
<text x="892.2" y="532.2" class="ar" style="font-size:10px" transform="translate(339.04,0) scale(0.62,1)">4 (97)</text>
<text x="943.3" y="532.2" class="ar" style="font-size:10px" transform="translate(358.45,0) scale(0.62,1)">1 (99)</text>
<text x="993.3" y="532.2" class="ar" style="font-size:10px" transform="translate(377.45,0) scale(0.62,1)">0 (99)</text>
<text x="588.4" y="544.4" class="ar" style="font-size:10px" transform="translate(223.59,0) scale(0.62,1)">114 (0)</text>
<text x="637.8" y="544.4" class="ar" style="font-size:10px" transform="translate(242.36,0) scale(0.62,1)">55 (47)</text>
<text x="688.4" y="544.4" class="ar" style="font-size:10px" transform="translate(261.59,0) scale(0.62,1)">21 (79)</text>
<text x="739.6" y="544.4" class="ar" style="font-size:10px" transform="translate(281.05,0) scale(0.62,1)">8 (91)</text>
<text x="790.5" y="544.4" class="ar" style="font-size:10px" transform="translate(300.39,0) scale(0.62,1)">3 (95)</text>
<text x="841.8" y="544.4" class="ar" style="font-size:10px" transform="translate(319.88,0) scale(0.62,1)">2 (95)</text>
<text x="892.2" y="544.4" class="ar" style="font-size:10px" transform="translate(339.04,0) scale(0.62,1)">0 (95)</text>
</svg></body></html>
